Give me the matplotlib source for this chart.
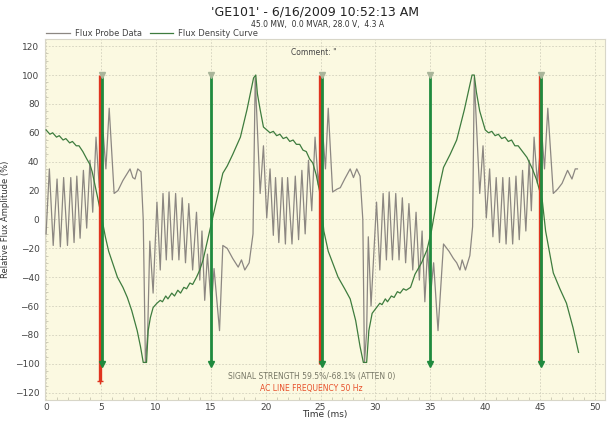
import matplotlib
matplotlib.use("Agg")
import matplotlib.pyplot as plt
from matplotlib.ticker import MultipleLocator

# ---- data (time in ms, amplitude in %) ----
probe_t = [0.0, 0.3, 0.65, 1.0, 1.3, 1.6, 1.95, 2.25, 2.55, 2.8, 3.1, 3.4, 3.7, 4.0,
           4.25, 4.55, 4.85, 5.2, 5.45, 5.75, 6.2, 6.55, 7.0, 7.4, 7.65, 7.9, 8.1,
           8.35, 8.65, 8.85, 9.05, 9.25, 9.45, 9.75, 10.1, 10.4, 10.65, 10.95, 11.2,
           11.5, 11.8, 12.1, 12.4, 12.7, 13.0, 13.35, 13.7, 14.0, 14.2, 14.45, 14.7,
           15.05, 15.3, 15.8, 16.1, 16.5, 17.0, 17.5, 17.8, 18.1, 18.5, 18.85, 19.05,
           19.5, 19.8, 20.1, 20.4, 20.7, 20.9, 21.2, 21.5, 21.8, 22.0, 22.4, 22.7,
           23.0, 23.3, 23.6, 23.9, 24.2, 24.5, 24.8, 25.2, 25.45, 25.7, 26.1, 26.5,
           26.8, 27.2, 27.7, 28.0, 28.3, 28.6, 28.85, 29.0, 29.2, 29.35, 29.6, 30.1,
           30.4, 30.7, 31.0, 31.25, 31.55, 31.85, 32.15, 32.45, 32.75, 33.05, 33.4,
           33.7, 34.0, 34.25, 34.5, 34.75, 35.0, 35.3, 35.7, 36.2, 36.7, 37.1, 37.4,
           37.7, 37.9, 38.2, 38.6, 38.85, 39.0, 39.5, 39.8, 40.1, 40.4, 40.7, 41.0,
           41.3, 41.6, 41.9, 42.2, 42.5, 42.8, 43.1, 43.4, 43.7, 44.0, 44.2, 44.45,
           44.75, 45.15, 45.4, 45.7, 46.2, 46.6, 47.0, 47.5, 47.9, 48.2, 48.4]
probe_y = [-10, 35, -18, 28, -19, 29, -18, 29, -16, 30, -13, 34, -6, 41,
           5, 57, 22, 60, 35, 77, 18, 20, 27, 32, 35, 29, 28,
           35, 33, 0, -99, -80, -15, -51, 12, -35, 18, -28, 19,
           -28, 18, -28, 15, -30, 11, -35, 5, -42, -8, -56, -24,
           -61, -34, -77, -18, -20, -27, -33, -28, -35, -30, -10, 98,
           18, 51, 1, 35, -11, 29, -16, 29, -17, 29, -17, 30,
           -14, 34, -10, 41, 6, 57, 24, 60, 35, 77, 19, 21,
           22, 28, 35, 29, 35, 30, 0, -99, -78, -12, -60, 12,
           -35, 18, -28, 19, -28, 18, -28, 15, -30, 11, -35,
           5, -42, -8, -57, -20, -54, -30, -77, -17, -22, -27, -30,
           -35, -28, -35, -25, -5, 98, 18, 51, 1, 35, -12, 29,
           -16, 29, -17, 29, -17, 30, -14, 34, -8, 41, 6, 57,
           25, 60, 35, 77, 18, 21, 25, 34, 28, 35, 35]

density_t = [0.0, 0.35, 0.6, 0.95, 1.2, 1.55, 1.8, 2.15, 2.4, 2.75, 3.0, 3.35, 3.7,
             4.0, 4.2, 4.7, 5.1, 5.4, 5.7, 6.1, 6.5, 7.0, 7.4, 7.8, 8.3, 8.6, 8.85,
             9.15, 9.3, 9.5, 9.75, 10.1, 10.4, 10.6, 10.9, 11.1, 11.45, 11.7, 12.0,
             12.25, 12.55, 12.8, 13.1, 13.35, 13.7, 14.0, 14.3, 14.6, 14.9, 15.3,
             15.8, 16.1, 16.5, 17.0, 17.7, 18.3, 18.9, 19.1, 19.25, 19.5, 19.8, 20.1,
             20.4, 20.7, 21.0, 21.3, 21.6, 21.9, 22.2, 22.5, 22.8, 23.1, 23.4, 23.7,
             24.0, 24.3, 24.6, 24.9, 25.1, 25.3, 25.7, 26.1, 26.6, 27.2, 27.7, 28.2,
             28.6, 28.9, 29.2, 29.4, 29.7, 30.1, 30.4, 30.6, 30.9, 31.1, 31.45, 31.7,
             32.0, 32.25, 32.55, 32.8, 33.2, 33.6, 34.2, 34.7, 35.1, 35.4, 35.8, 36.2,
             36.8, 37.4, 38.1, 38.8, 39.0, 39.2, 39.5, 40.0, 40.3, 40.6, 40.9, 41.2,
             41.5, 41.8, 42.1, 42.4, 42.7, 43.0, 43.3, 43.8, 44.3, 44.7, 45.2, 45.5,
             46.2, 46.8, 47.4, 48.0, 48.5]
density_y = [62, 59, 60, 57, 58, 55, 56, 53, 54, 51, 51, 47, 42,
             38, 33, 15, 0, -12, -22, -31, -40, -47, -54, -63, -77, -88, -99,
             -99, -77, -68, -61, -58, -56, -57, -53, -55, -51, -53, -49,
             -51, -47, -48, -44, -45, -40, -35, -28, -18, -8, 5,
             22, 32, 37, 45, 57, 76, 98, 100, 87, 76, 64, 62,
             60, 61, 58, 59, 56, 57, 54, 55, 52, 52, 48, 47,
             42, 39, 31, 20, 8, -8, -22, -30, -40, -48, -55, -70,
             -88, -99, -99, -77, -65, -61, -58, -59, -55, -57, -53, -54,
             -50, -51, -48, -49, -47, -38, -30, -21, -8, 5, 22, 36,
             45, 55, 76, 100, 100, 88, 75, 62, 60, 61, 58, 59,
             56, 57, 54, 55, 51, 51, 48, 43, 35, 27, 13, -8,
             -37, -48, -58, -75, -92]

red_times = [4.95, 24.95, 44.95]
green_times = [5.12, 15.0, 25.12, 35.0, 45.12]

title = "'GE101' - 6/16/2009 10:52:13 AM"
subtitle = "45.0 MW,  0.0 MVAR, 28.0 V,  4.3 A"

fig = plt.figure(figsize=(6.11, 4.23), dpi=100)
ax = fig.add_axes([0.0736, 0.0544, 0.9164, 0.8536])
ax.set_facecolor("#fbf9e1")

ax.plot(probe_t, probe_y, color="#8c8782", lw=0.9, label="Flux Probe Data", zorder=3)
ax.plot(density_t, density_y, color="#3e7c3e", lw=0.9, label="Flux Density Curve", zorder=3)

# marker lines
ax.vlines(red_times[:1], -112, 100, color="#e0341f", lw=2.4, zorder=4)
ax.vlines(red_times[1:], -100, 100, color="#e0341f", lw=2.4, zorder=4)
ax.vlines(green_times, -100, 100, color="#1f8a3e", lw=2.0, zorder=5)
ax.plot(green_times, [100] * len(green_times), ls="none", marker="v", ms=4,
        color="#a9b59a", zorder=6)
ax.plot(green_times, [-100] * len(green_times), ls="none", marker="v", ms=4,
        color="#1f8a3e", zorder=6)
ax.plot(red_times[:1], [-112], ls="none", marker="+", ms=4, color="#e0341f", zorder=6)

ax.set_xlim(-0.1, 50.9)
ax.set_ylim(-125, 125)
ax.xaxis.set_major_locator(MultipleLocator(5))
ax.xaxis.set_minor_locator(MultipleLocator(1))
ax.yaxis.set_major_locator(MultipleLocator(20))
ax.yaxis.set_minor_locator(MultipleLocator(5))
ax.grid(True, which="major", ls=(0, (2, 2)), color="#d2d0bc", lw=0.6)
ax.tick_params(which="major", length=0, labelsize=6.5, colors="#444444")
ax.tick_params(axis="x", which="major", pad=2)
ax.tick_params(axis="y", which="major", pad=4)
ax.tick_params(which="minor", direction="in", length=2.5, color="#c8c6b0")
for s in ax.spines.values():
    s.set_color("#d8d6c8")

ax.set_xlabel("Time (ms)", fontsize=6.5, labelpad=-1, color="#333333")
ax.set_ylabel("Relative Flux Amplitude (%)", fontsize=6, labelpad=3, color="#333333")

ax.text(0.48, 0.975, 'Comment: "', transform=ax.transAxes, ha="center", va="top",
        fontsize=5.5, color="#444444")
ax.text(24.2, -109, "SIGNAL STRENGTH 59.5%/-68.1% (ATTEN 0)", ha="center", va="center",
        fontsize=5.5, color="#777766")
ax.text(24.2, -117, "AC LINE FREQUENCY 50 Hz", ha="center", va="center",
        fontsize=5.5, color="#e8502a")

ax.legend(loc="lower left", bbox_to_anchor=(-0.005, 0.99), ncol=2, frameon=False,
          fontsize=6, handlelength=2.8, handletextpad=0.6, columnspacing=1.0,
          borderaxespad=0.1, labelcolor="#444444")

fig.text(0.516, 0.972, title, ha="center", va="center", fontsize=9, color="#222222")
fig.text(0.52, 0.942, subtitle, ha="center", va="center", fontsize=5.5, color="#333333")

fig.savefig("out.png", dpi=100, facecolor="white")
